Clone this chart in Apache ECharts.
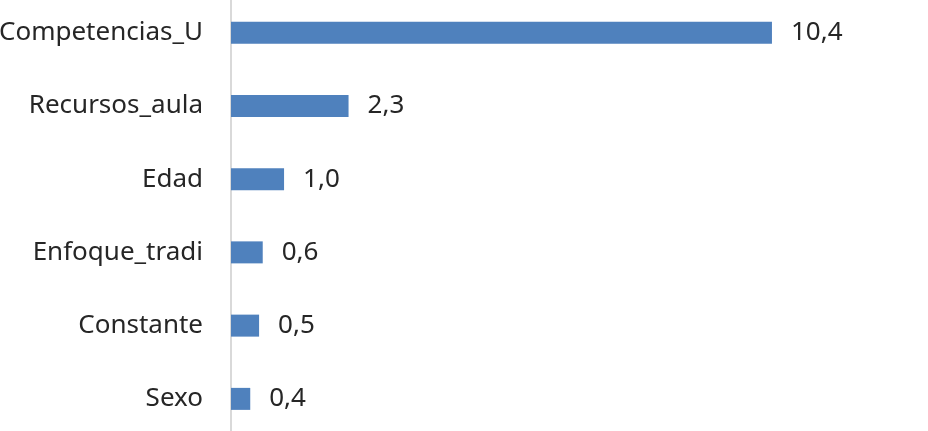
<!DOCTYPE html>
<html>
<head>
<meta charset="utf-8">
<script src="https://cdn.jsdelivr.net/npm/echarts@6/dist/echarts.min.js"></script>
<style>html,body{margin:0;padding:0;background:#fff}#c{width:928px;height:431px}</style>
</head>
<body>
<div id="c"></div>
<script>
const categories = ["Sexo", "Constante", "Enfoque_tradi", "Edad", "Recursos_aula", "Competencias_U"];
const values = [0.37, 0.54, 0.61, 1.02, 2.26, 10.4];

const chart = echarts.init(document.getElementById('c'), null, {renderer: 'canvas'});
chart.setOption({
  animation: false,
  backgroundColor: '#ffffff',
  grid: {left: 231, top: -4, width: 697, height: 439.5, containLabel: false, outerBoundsMode: 'none'},
  xAxis: {type: 'value', min: 0, max: 13.4, show: false},
  yAxis: {
    type: 'category', data: categories,
    axisLine: {show: true, lineStyle: {color: '#d9d9d9', width: 2}},
    axisTick: {show: false},
    axisLabel: {margin: 28, fontSize: 26, color: '#262626', fontFamily: 'Noto Sans'}
  },
  series: [{
    type: 'bar', data: values, barWidth: 22,
    itemStyle: {color: '#4f81bd'},
    label: {show: true, position: 'right', distance: 19, fontSize: 26, color: '#262626', fontFamily: 'Noto Sans',
      formatter: p => p.value.toFixed(1).replace('.', ',')}
  }]
});
</script>
</body>
</html>
